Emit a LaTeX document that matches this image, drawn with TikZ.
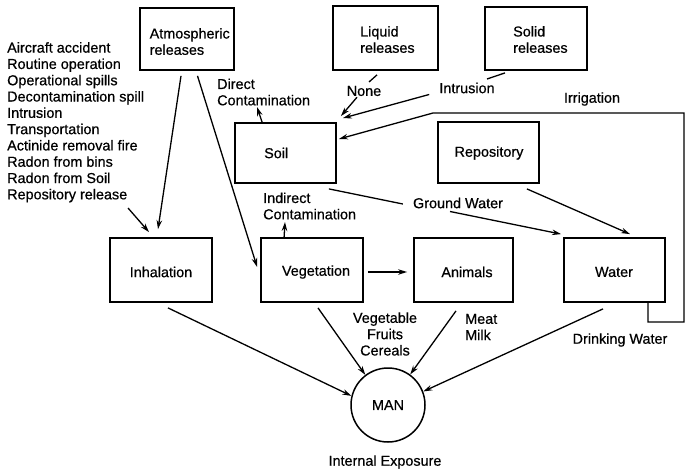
\documentclass[tikz,border=0pt]{standalone}
\usepackage{fontspec}
\setmainfont{Liberation Sans}
\newfontfamily\labfont{Liberation Sans}[FakeBold=0.6]
\usetikzlibrary{arrows.meta,calc}
\begin{document}
\begin{tikzpicture}[x=1pt,y=-1pt,
  box/.style={draw, line width=1.8pt, inner sep=0pt},
  txt/.style={font=\labfont\fontsize{14.4}{16.3}\selectfont, inner sep=0pt, align=left},
  ctxt/.style={font=\labfont\fontsize{14.4}{16.3}\selectfont, inner sep=0pt, align=center},
  arr/.style={line width=1.3pt, -{Stealth[length=9pt,width=5.5pt]}},
  ln/.style={line width=1.3pt}]
\useasboundingbox (0,0) rectangle (685,471);
% boxes
\node[box, minimum width=94pt, minimum height=62pt] (atm) at (187,39) {};
\node[box, minimum width=105pt, minimum height=64pt] (liq) at (385.5,38) {};
\node[box, minimum width=102pt, minimum height=63pt] (sol) at (536,38.5) {};
\node[box, minimum width=101pt, minimum height=60pt] (soil) at (285.5,153) {};
\node[box, minimum width=101pt, minimum height=61pt] (rep) at (488.5,152.5) {};
\node[box, minimum width=102pt, minimum height=64pt] (inh) at (161,270) {};
\node[box, minimum width=102pt, minimum height=64pt] (veg) at (312,270) {};
\node[box, minimum width=99pt, minimum height=64pt] (ani) at (463.5,270) {};
\node[box, minimum width=101pt, minimum height=64pt] (wat) at (614.5,270) {};
\node[draw, circle, line width=1.5pt, minimum size=74pt, inner sep=0pt] (man) at (388,405) {};
% box texts
\node[txt, anchor=west] (atmT) at (149.5,41.5) {Atmospheric\\releases};
\node[txt, anchor=west] (liqT) at (360,39.5) {Liquid\\releases};
\node[txt, anchor=west] (solT) at (513,39.5) {Solid\\releases};
\node[txt, anchor=west] (soilT) at (264,153) {Soil};
\node[ctxt] (repT) at (489,153) {Repository};
\node[ctxt] (inhT) at (161,272) {Inhalation};
\node[ctxt] (vegT) at (316,272) {Vegetation};
\node[ctxt] (aniT) at (467,272) {Animals};
\node[ctxt] (watT) at (614,272) {Water};
\node[ctxt] (manT) at (388,405) {MAN};
% labels
\node[txt, anchor=north west] (src) at (7,42) {Aircraft accident\\Routine operation\\Operational spills\\Decontamination spill\\Intrusion\\Transportation\\Actinide removal fire\\Radon from bins\\Radon from Soil\\Repository release};
\node[txt, anchor=west] (dirT) at (217,92) {Direct\\Contamination};
\node[ctxt] (none) at (364,91) {None};
\node[ctxt] (intr) at (467,88) {Intrusion};
\node[ctxt] (irr) at (592,99) {Irrigation};
\node[txt, anchor=west] (indT) at (263,206) {Indirect\\Contamination};
\node[ctxt] (gw) at (458,203) {Ground Water};
\node[ctxt] (vfc) at (385,334) {Vegetable\\Fruits\\Cereals};
\node[txt, anchor=west] (mm) at (465,327) {Meat\\Milk};
\node[ctxt] (dw) at (620,340) {Drinking Water};
\node[ctxt] (ie) at (385,462) {Internal Exposure};
% connectors
\draw[arr] ($(atm.south)+(-6,5)$) -- ($(inh.north)+(-3,-8)$);
\draw[arr] ($(atm.south)+(10.5,5)$) -- ($(veg.west)+(-3,-3)$);
\coordinate (srcE) at (128,208);
\draw[arr] (srcE) -- ($(inh.north)+(-12,-5)$);
\coordinate (noneL) at (369,82);
\coordinate (intrL) at (487,79);
\draw[ln] ($(liq.south)+(-8.5,4)$) -- (noneL);
\draw[ln] ($(sol.south)+(-31,2)$) -- (intrL);
\draw[arr] ($(none.south)+(-7,1)$) -- ($(soil.north east)+(4,-6)$);
\draw[arr] ($(intr.south west)+(-10,1)$) -- ($(soil.north east)+(6,-4)$);
\coordinate (irrR) at (684,322);
\coordinate (irrT) at (433,113);
\draw[arr] ($(wat.south east)+(-18,0)$) |- (irrR) |- (irrT) -- ($(soil.east)+(2,-14)$);
\draw[ln] ($(soil.south east)+(-8,5)$) -- ($(gw.west)+(-10,1)$);
\draw[arr] ($(gw.south)+(-8,3)$) -- ($(wat.north west)+(-2,-3)$);
\draw[arr] ($(rep.south east)+(-13,5)$) -- ($(wat.north)+(15.5,-3)$);
\draw[arr] ($(veg.east)+(4,2)$) -- ($(ani.west)+(-6,2)$);
\coordinate (dirP) at (257,107);
\coordinate (indP) at (285,222);
\draw[arr] ($(soil.north west)+(28,0)$) -- (dirP);
\draw[arr] ($(veg.north west)+(24,0)$) -- (indP);
\draw[arr] ($(inh.south)+(7,5)$) -- (man.166);
\draw[arr] ($(veg.south)+(6,5)$) -- (man.127);
\draw[arr] ($(ani.south)+(-7.5,8)$) -- (man.54);
\draw[arr] ($(wat.south)+(-11.5,6)$) -- (man.21);
\end{tikzpicture}
\end{document}
